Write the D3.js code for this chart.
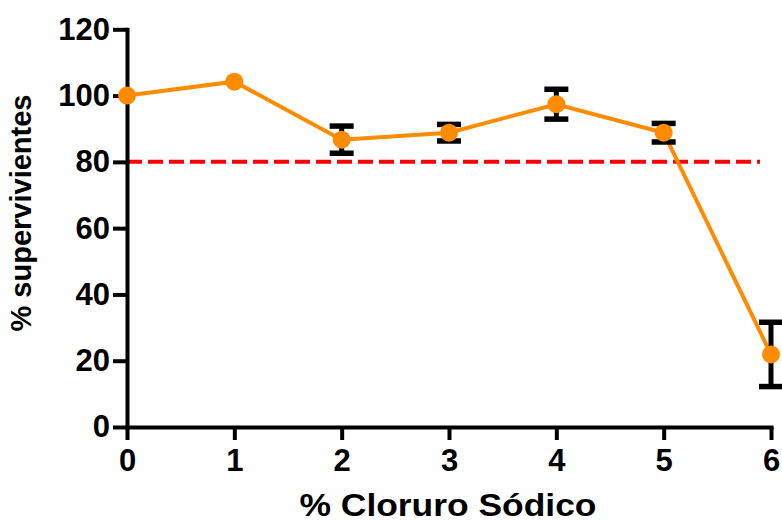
<!DOCTYPE html>
<html>
<head>
<meta charset="utf-8">
<script src="https://cdn.jsdelivr.net/npm/d3@7"></script>
<style>
  html, body { margin: 0; padding: 0; background: #fff; }
  svg { display: block; }
  text { font-family: "Liberation Sans", Arial, sans-serif; font-weight: bold; }
</style>
</head>
<body>
<svg id="chart" width="782" height="523"></svg>
<script>
const concentrations = [0, 1, 2, 3, 4, 5, 6];
const survival = [100, 104.2, 86.7, 88.8, 97.4, 88.8, 21.9];
const survivalErr = [0, 0, 4.1, 2.5, 4.5, 2.8, 9.7];
const xTicks = [0, 1, 2, 3, 4, 5, 6];
const yTicks = [0, 20, 40, 60, 80, 100, 120];
const threshold = 80;
const xTitle = "% Cloruro Sódico";
const yTitle = "% supervivientes";

const svg = d3.select("#chart");
const x = d3.scaleLinear().domain([0, 6]).range([127, 771]);
const y = d3.scaleLinear().domain([0, 120]).range([427, 29.3]);

const data = concentrations.map((c, i) => ({ c, v: survival[i], e: survivalErr[i] }));

// threshold line
svg.append("line")
  .attr("x1", x(0)).attr("x2", 760)
  .attr("y1", y(threshold)).attr("y2", y(threshold))
  .attr("stroke", "#FF0000").attr("stroke-width", 4)
  .attr("stroke-dasharray", "15,6");

// axes
const yAxis = svg.append("g")
  .attr("transform", `translate(${x(0)},0)`)
  .call(d3.axisLeft(y).tickValues(yTicks).tickFormat(d3.format("d"))
    .tickSize(14).tickPadding(3).tickSizeOuter(0));
const xAxis = svg.append("g")
  .attr("transform", `translate(0,${y(0)})`)
  .call(d3.axisBottom(x).tickValues(xTicks).tickFormat(d3.format("d"))
    .tickSize(13).tickPadding(9).tickSizeOuter(0));

[yAxis, xAxis].forEach(g => {
  g.select(".domain").attr("stroke", "#000").attr("stroke-width", 4).attr("stroke-linecap", "square");
  g.selectAll(".tick line").attr("stroke", "#000").attr("stroke-width", 4);
  g.selectAll(".tick text").attr("fill", "#000").attr("font-size", 31)
    .attr("font-family", '"Liberation Sans", Arial, sans-serif').attr("font-weight", "bold");
});

// data line
svg.append("path")
  .datum(data)
  .attr("fill", "none")
  .attr("stroke", "#FF8C00")
  .attr("stroke-width", 4)
  .attr("d", d3.line().x(d => x(d.c)).y(d => y(d.v)));

// error bars
const eb = svg.append("g").selectAll("g").data(data.filter(d => d.e > 0)).join("g");
eb.append("line")
  .attr("x1", d => x(d.c)).attr("x2", d => x(d.c))
  .attr("y1", d => y(d.v - d.e)).attr("y2", d => y(d.v + d.e))
  .attr("stroke", "#000").attr("stroke-width", 5);
eb.append("line")
  .attr("x1", d => x(d.c) - 12).attr("x2", d => x(d.c) + 12)
  .attr("y1", d => y(d.v + d.e)).attr("y2", d => y(d.v + d.e))
  .attr("stroke", "#000").attr("stroke-width", 5.5);
eb.append("line")
  .attr("x1", d => x(d.c) - 12).attr("x2", d => x(d.c) + 12)
  .attr("y1", d => y(d.v - d.e)).attr("y2", d => y(d.v - d.e))
  .attr("stroke", "#000").attr("stroke-width", 5.5);

// markers
svg.append("g").selectAll("circle").data(data).join("circle")
  .attr("cx", d => x(d.c)).attr("cy", d => y(d.v)).attr("r", 9)
  .attr("fill", "#FF8C00");

// titles
svg.append("text")
  .attr("x", 448).attr("y", 516)
  .attr("text-anchor", "middle").attr("font-size", 32)
  .attr("textLength", 297).attr("lengthAdjust", "spacingAndGlyphs")
  .text(xTitle);
svg.append("text")
  .attr("transform", `translate(31,213) rotate(-90)`)
  .attr("text-anchor", "middle").attr("font-size", 29)
  .text(yTitle);
</script>
</body>
</html>
